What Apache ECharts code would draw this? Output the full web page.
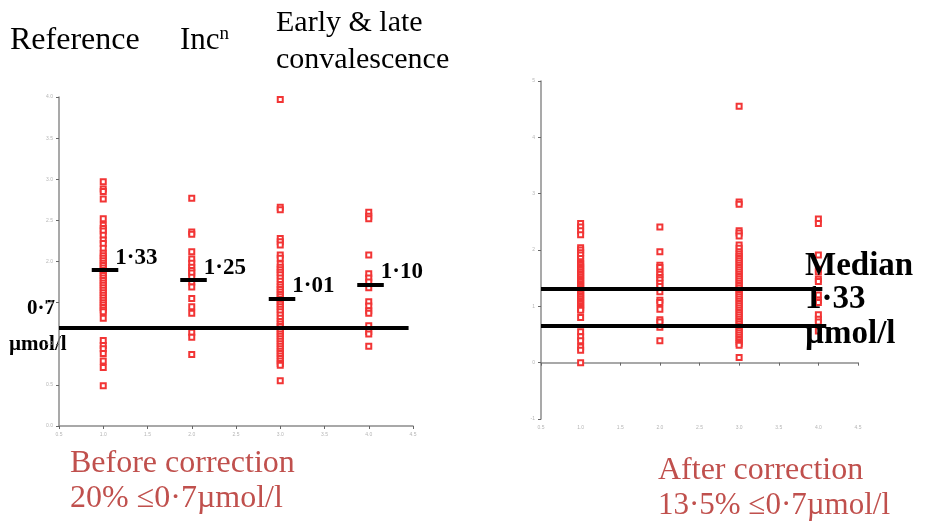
<!DOCTYPE html>
<html style="height: 100%">
<head>
    <meta charset="utf-8">
    <script type="text/javascript" src="https://cdn.jsdelivr.net/npm/echarts@6/dist/echarts.min.js"></script>
</head>
<body style="height: 100%; margin: 0; background: #fff">
    <div id="main" style="width: 925px; height: 522px;"></div>
    <script type="text/javascript">
        // groups on the x axis: reference, inc, early conv, late conv
        var groups = [1, 2, 3, 4];

        // before correction (left panel)
        var beforeRef = [2.97, 2.88, 2.85, 2.76, 2.52, 2.44, 2.40, 2.37, 2.32, 2.26, 2.22, 2.16, 2.10, 2.07, 2.04, 2.01, 1.98, 1.95, 1.92, 1.89, 1.86, 1.83, 1.80, 1.77, 1.74, 1.71, 1.68, 1.65, 1.62, 1.59, 1.56, 1.53, 1.50, 1.47, 1.44, 1.41, 1.39, 1.31, 1.04, 0.98, 0.94, 0.88, 0.79, 0.71, 0.49];
        var beforeInc = [2.77, 2.36, 2.33, 2.12, 2.03, 1.98, 1.93, 1.89, 1.86, 1.81, 1.75, 1.69, 1.55, 1.45, 1.37, 1.14, 1.08, 0.87];
        var beforeEarlyLate = [3.97, 2.66, 2.63, 2.28, 2.24, 2.20, 2.08, 2.04, 1.97, 1.93, 1.90, 1.87, 1.84, 1.80, 1.76, 1.72, 1.69, 1.66, 1.63, 1.60, 1.57, 1.54, 1.51, 1.48, 1.45, 1.42, 1.39, 1.35, 1.31, 1.27, 1.24, 1.21, 1.18, 1.15, 1.12, 1.09, 1.06, 1.03, 1.00, 0.97, 0.94, 0.91, 0.88, 0.85, 0.82, 0.79, 0.76, 0.74, 0.55];
        var beforeLate = [2.60, 2.55, 2.52, 2.08, 1.85, 1.80, 1.75, 1.68, 1.51, 1.46, 1.40, 1.37, 1.22, 1.15, 1.12, 0.97];

        // after correction (right panel)
        var afterRef = [2.47, 2.41, 2.34, 2.27, 2.04, 2.00, 1.95, 1.91, 1.85, 1.79, 1.76, 1.73, 1.70, 1.67, 1.64, 1.61, 1.58, 1.55, 1.52, 1.49, 1.46, 1.43, 1.40, 1.37, 1.34, 1.31, 1.28, 1.25, 1.22, 1.19, 1.16, 1.13, 1.10, 1.07, 1.04, 1.01, 0.98, 0.95, 0.93, 0.80, 0.55, 0.46, 0.39, 0.28, 0.22, 0.00];
        var afterInc = [2.41, 1.97, 1.73, 1.69, 1.61, 1.57, 1.51, 1.47, 1.41, 1.35, 1.26, 1.11, 1.07, 0.95, 0.76, 0.72, 0.63, 0.39];
        var afterEarlyLate = [4.55, 2.85, 2.81, 2.34, 2.30, 2.25, 2.09, 2.03, 1.97, 1.93, 1.89, 1.85, 1.81, 1.77, 1.73, 1.69, 1.65, 1.61, 1.57, 1.53, 1.49, 1.45, 1.41, 1.37, 1.33, 1.29, 1.25, 1.21, 1.17, 1.13, 1.09, 1.05, 1.01, 0.97, 0.93, 0.89, 0.85, 0.81, 0.77, 0.73, 0.69, 0.65, 0.61, 0.57, 0.53, 0.49, 0.45, 0.41, 0.37, 0.34, 0.31, 0.09];
        var afterLate = [2.55, 2.47, 1.91, 1.66, 1.61, 1.48, 1.44, 1.20, 1.11, 1.07, 0.85, 0.77, 0.72, 0.56];

        // medians drawn as short bars on the left panel (axis position, printed text)
        var beforeMedians = [1.90, 1.78, 1.55, 1.72];
        var beforeMedianText = ['1·33', '1·25', '1·01', '1·10'];
        var beforeCutoff = 1.19;
        // lines on the right panel
        var afterMedian = 1.31;
        var afterCutoff = 0.65;

        var chart = echarts.init(document.getElementById('main'));

        function toPoints(cols) {
            var pts = [];
            cols.forEach(function (vals, i) {
                vals.forEach(function (v) { pts.push([groups[i], v]); });
            });
            return pts;
        }

        var beforePts = toPoints([beforeRef, beforeInc, beforeEarlyLate, beforeLate]);
        var afterPts = toPoints([afterRef, afterInc, afterEarlyLate, afterLate]);

        var medianBars = beforeMedians.map(function (m, i) {
            return [{ coord: [groups[i] - 0.13, m] }, { coord: [groups[i] + 0.17, m] }];
        });
        var medianLabels = beforeMedians.map(function (m, i) {
            return [groups[i] + 0.17, m, beforeMedianText[i]];
        });

        var axisBase = {
            type: 'value',
            axisLine: { show: true, lineStyle: { color: '#8c8c8c', width: 1.5 } },
            axisTick: { show: true, length: 3, lineStyle: { color: '#666' } },
            axisLabel: { fontSize: 5, color: '#b5b5b5', margin: 6 },
            splitLine: { show: false }
        };
        var oneDecimal = function (v) { return v.toFixed(1); };

        var pointStyle = {
            symbol: 'emptyRect',
            symbolSize: 5,
            itemStyle: { color: '#f23535', borderWidth: 1, opacity: 1 }
        };

        var redText = '#c0504d';
        var serif = '"Liberation Serif", "DejaVu Serif", serif';

        var option = {
            animation: false,
            grid: [
                { left: 59, top: 97, width: 354, height: 329 },
                { left: 541, top: 81, width: 317, height: 338 }
            ],
            xAxis: [
                Object.assign({}, axisBase, { gridIndex: 0, min: 0.5, max: 4.5, interval: 0.5,
                    axisLabel: Object.assign({}, axisBase.axisLabel, { formatter: oneDecimal }) }),
                Object.assign({}, axisBase, { gridIndex: 1, min: 0.5, max: 4.5, interval: 0.5,
                    axisLabel: Object.assign({}, axisBase.axisLabel, { formatter: oneDecimal }) })
            ],
            yAxis: [
                Object.assign({}, axisBase, { gridIndex: 0, min: 0, max: 4, interval: 0.5,
                    axisLabel: Object.assign({}, axisBase.axisLabel, { formatter: oneDecimal }) }),
                Object.assign({}, axisBase, { gridIndex: 1, min: -1, max: 5, interval: 1 })
            ],
            series: [
                Object.assign({
                    type: 'scatter',
                    xAxisIndex: 0,
                    yAxisIndex: 0,
                    data: beforePts,
                    markLine: {
                        silent: true,
                        symbol: ['none', 'none'],
                        label: { show: false },
                        lineStyle: { color: '#000', width: 4, type: 'solid', opacity: 1 },
                        data: [[{ coord: [0.5, beforeCutoff] }, { coord: [4.45, beforeCutoff] }]].concat(medianBars)
                    }
                }, pointStyle),
                {
                    type: 'scatter',
                    xAxisIndex: 0,
                    yAxisIndex: 0,
                    symbolSize: 0,
                    silent: true,
                    itemStyle: { opacity: 1 },
                    data: medianLabels,
                    label: {
                        show: true,
                        position: 'right',
                        distance: 0,
                        offset: [-3, -12],
                        formatter: function (p) { return p.value[2]; },
                        fontFamily: serif,
                        fontWeight: 'bold',
                        fontSize: 23,
                        color: '#000'
                    }
                },
                Object.assign({
                    type: 'scatter',
                    xAxisIndex: 1,
                    yAxisIndex: 1,
                    data: afterPts,
                    markLine: {
                        silent: true,
                        symbol: ['none', 'none'],
                        label: { show: false },
                        lineStyle: { color: '#000', width: 4, type: 'solid', opacity: 1 },
                        data: [
                            [{ coord: [0.5, afterMedian] }, { coord: [4.05, afterMedian] }],
                            [{ coord: [0.5, afterCutoff] }, { coord: [4.1, afterCutoff] }]
                        ]
                    }
                }, pointStyle)
            ],
            graphic: [
                { type: 'text', left: 10, top: 25, style: { text: 'Reference', font: '32px ' + serif, fill: '#000' } },
                { type: 'text', left: 180, top: 25, style: {
                    text: '{b|Inc}{s|n}',
                    rich: { b: { fontFamily: serif, fontSize: 31, color: '#000' },
                            s: { fontFamily: serif, fontSize: 19, color: '#000', verticalAlign: 'top', padding: [0, 0, 12, 0] } } } },
                { type: 'text', left: 276, top: 8, style: { text: 'Early & late', font: '30px ' + serif, fill: '#000' } },
                { type: 'text', left: 276, top: 45, style: { text: 'convalescence', font: '30px ' + serif, fill: '#000' } },

                { type: 'text', left: 27, top: 298, style: { text: '0·7', font: 'bold 21px ' + serif, fill: '#000' } },
                { type: 'text', left: 9, top: 334, style: { text: 'µmol/l', font: 'bold 21px ' + serif, fill: '#000' } },

                { type: 'text', left: 805, top: 250, z: 10, style: { text: 'Median', font: 'bold 33px ' + serif, fill: '#000' } },
                { type: 'text', left: 805, top: 283, z: 10, style: { text: '1·33', font: 'bold 33px ' + serif, fill: '#000' } },
                { type: 'text', left: 805, top: 318, z: 10, style: { text: 'µmol/l', font: 'bold 33px ' + serif, fill: '#000' } },

                { type: 'text', left: 70, top: 448, style: { text: 'Before correction', font: '32px ' + serif, fill: redText } },
                { type: 'text', left: 70, top: 483, style: { text: '20% ≤0·7µmol/l', font: '32px ' + serif, fill: redText } },
                { type: 'text', left: 658, top: 455, style: { text: 'After correction', font: '32px ' + serif, fill: redText } },
                { type: 'text', left: 658, top: 490, style: { text: '13·5% ≤0·7µmol/l', font: '31px ' + serif, fill: redText } }
            ]
        };

        chart.setOption(option);
    </script>
</body>
</html>
